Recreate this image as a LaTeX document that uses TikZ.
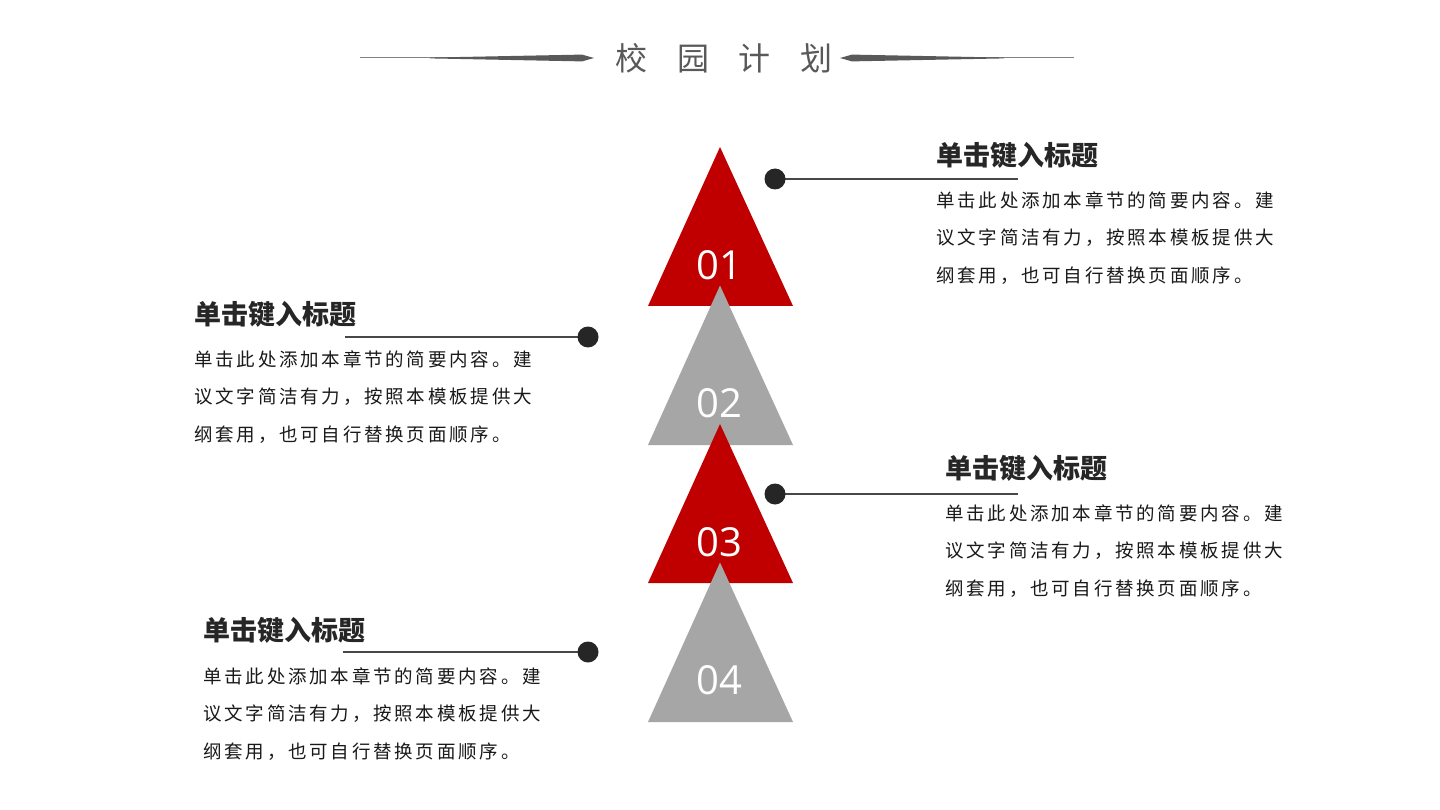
\documentclass[tikz,border=0pt]{standalone}
\usepackage{fontspec}
\newfontfamily\cjk{Noto Sans CJK SC}
\newfontfamily\cjkbody[LetterSpace=15]{Noto Sans CJK SC}
\newfontfamily\numfont{Open Sans}
\definecolor{tred}{HTML}{C00000}
\definecolor{tgray}{HTML}{A6A6A6}
\definecolor{titlegray}{HTML}{595959}
\definecolor{darktext}{HTML}{262626}
\tikzset{
  num/.style={font=\numfont\fontsize{40}{44}\selectfont, text=white, inner sep=0pt},
  dot/.style={circle, fill=darktext, minimum size=21pt, inner sep=0pt},
  conn/.style={draw=darktext!85, line width=1.4pt},
  heading/.style={font=\cjk\bfseries\fontsize{27}{30}\selectfont, text=darktext, inner sep=0pt, anchor=west},
  body/.style={font=\cjkbody\fontsize{18.5}{37.5}\selectfont, text=black!90, inner sep=0pt, anchor=west, align=left},
  titletext/.style={font=\cjk\fontsize{32}{36}\selectfont, text=titlegray, inner sep=0pt}
}
\begin{document}
\begin{tikzpicture}[x=1pt, y=-1pt]
\useasboundingbox[fill=white] (0,0) rectangle (1440,810);

% title
\node[titletext] (title) at (724,58) {校\hspace{29.5pt}园\hspace{29.5pt}计\hspace{29.5pt}划};
\draw[titlegray!75, line width=1pt] (360,58) -- (450,58);
\fill[titlegray] (430,57.6) -- (582,54.6) -- (594,58) -- (582,61.4) -- (430,58.4) -- cycle;
\draw[titlegray!75, line width=1pt] (1074,58) -- (984,58);
\fill[titlegray] (1004,57.6) -- (852,54.6) -- (840,58) -- (852,61.4) -- (1004,58.4) -- cycle;

% triangles
\fill[tred]  (720,147)   -- (793,306) -- (648,306) -- cycle;
\node[num] (n1) at (719,265) {01};
\fill[tgray] (720,285.5) -- (793,445) -- (648,445) -- cycle;
\node[num] (n2) at (719,403.5) {02};
\fill[tred]  (720,424)   -- (793,583) -- (648,583) -- cycle;
\node[num] (n3) at (719,542) {03};
\fill[tgray] (720,562.5) -- (793,722) -- (648,722) -- cycle;
\node[num] (n4) at (719,680.5) {04};

% block 1 (right)
\coordinate (e1) at (1018,179);
\draw[conn] (775,179) -- (e1);
\node[dot] (d1) at (775,179) {};
\node[heading] (h1) at (936,155) {单击键入标题};
\node[body] (b1) at (936,238) {单击此处添加本章节的简要内容。建\\议文字简洁有力，按照本模板提供大\\纲套用，也可自行替换页面顺序。};

% block 2 (left)
\coordinate (e2) at (345,337);
\draw[conn] (e2) -- (588,337);
\node[dot] (d2) at (588,337) {};
\node[heading] (h2) at (194,314) {单击键入标题};
\node[body] (b2) at (194,397) {单击此处添加本章节的简要内容。建\\议文字简洁有力，按照本模板提供大\\纲套用，也可自行替换页面顺序。};

% block 3 (right)
\coordinate (e3) at (1018,494);
\draw[conn] (775,494) -- (e3);
\node[dot] (d3) at (775,494) {};
\node[heading] (h3) at (945,468) {单击键入标题};
\node[body] (b3) at (945,551) {单击此处添加本章节的简要内容。建\\议文字简洁有力，按照本模板提供大\\纲套用，也可自行替换页面顺序。};

% block 4 (left)
\coordinate (e4) at (343,652);
\draw[conn] (e4) -- (588,652);
\node[dot] (d4) at (588,652) {};
\node[heading] (h4) at (203,630) {单击键入标题};
\node[body] (b4) at (203,714) {单击此处添加本章节的简要内容。建\\议文字简洁有力，按照本模板提供大\\纲套用，也可自行替换页面顺序。};
\end{tikzpicture}
\end{document}
